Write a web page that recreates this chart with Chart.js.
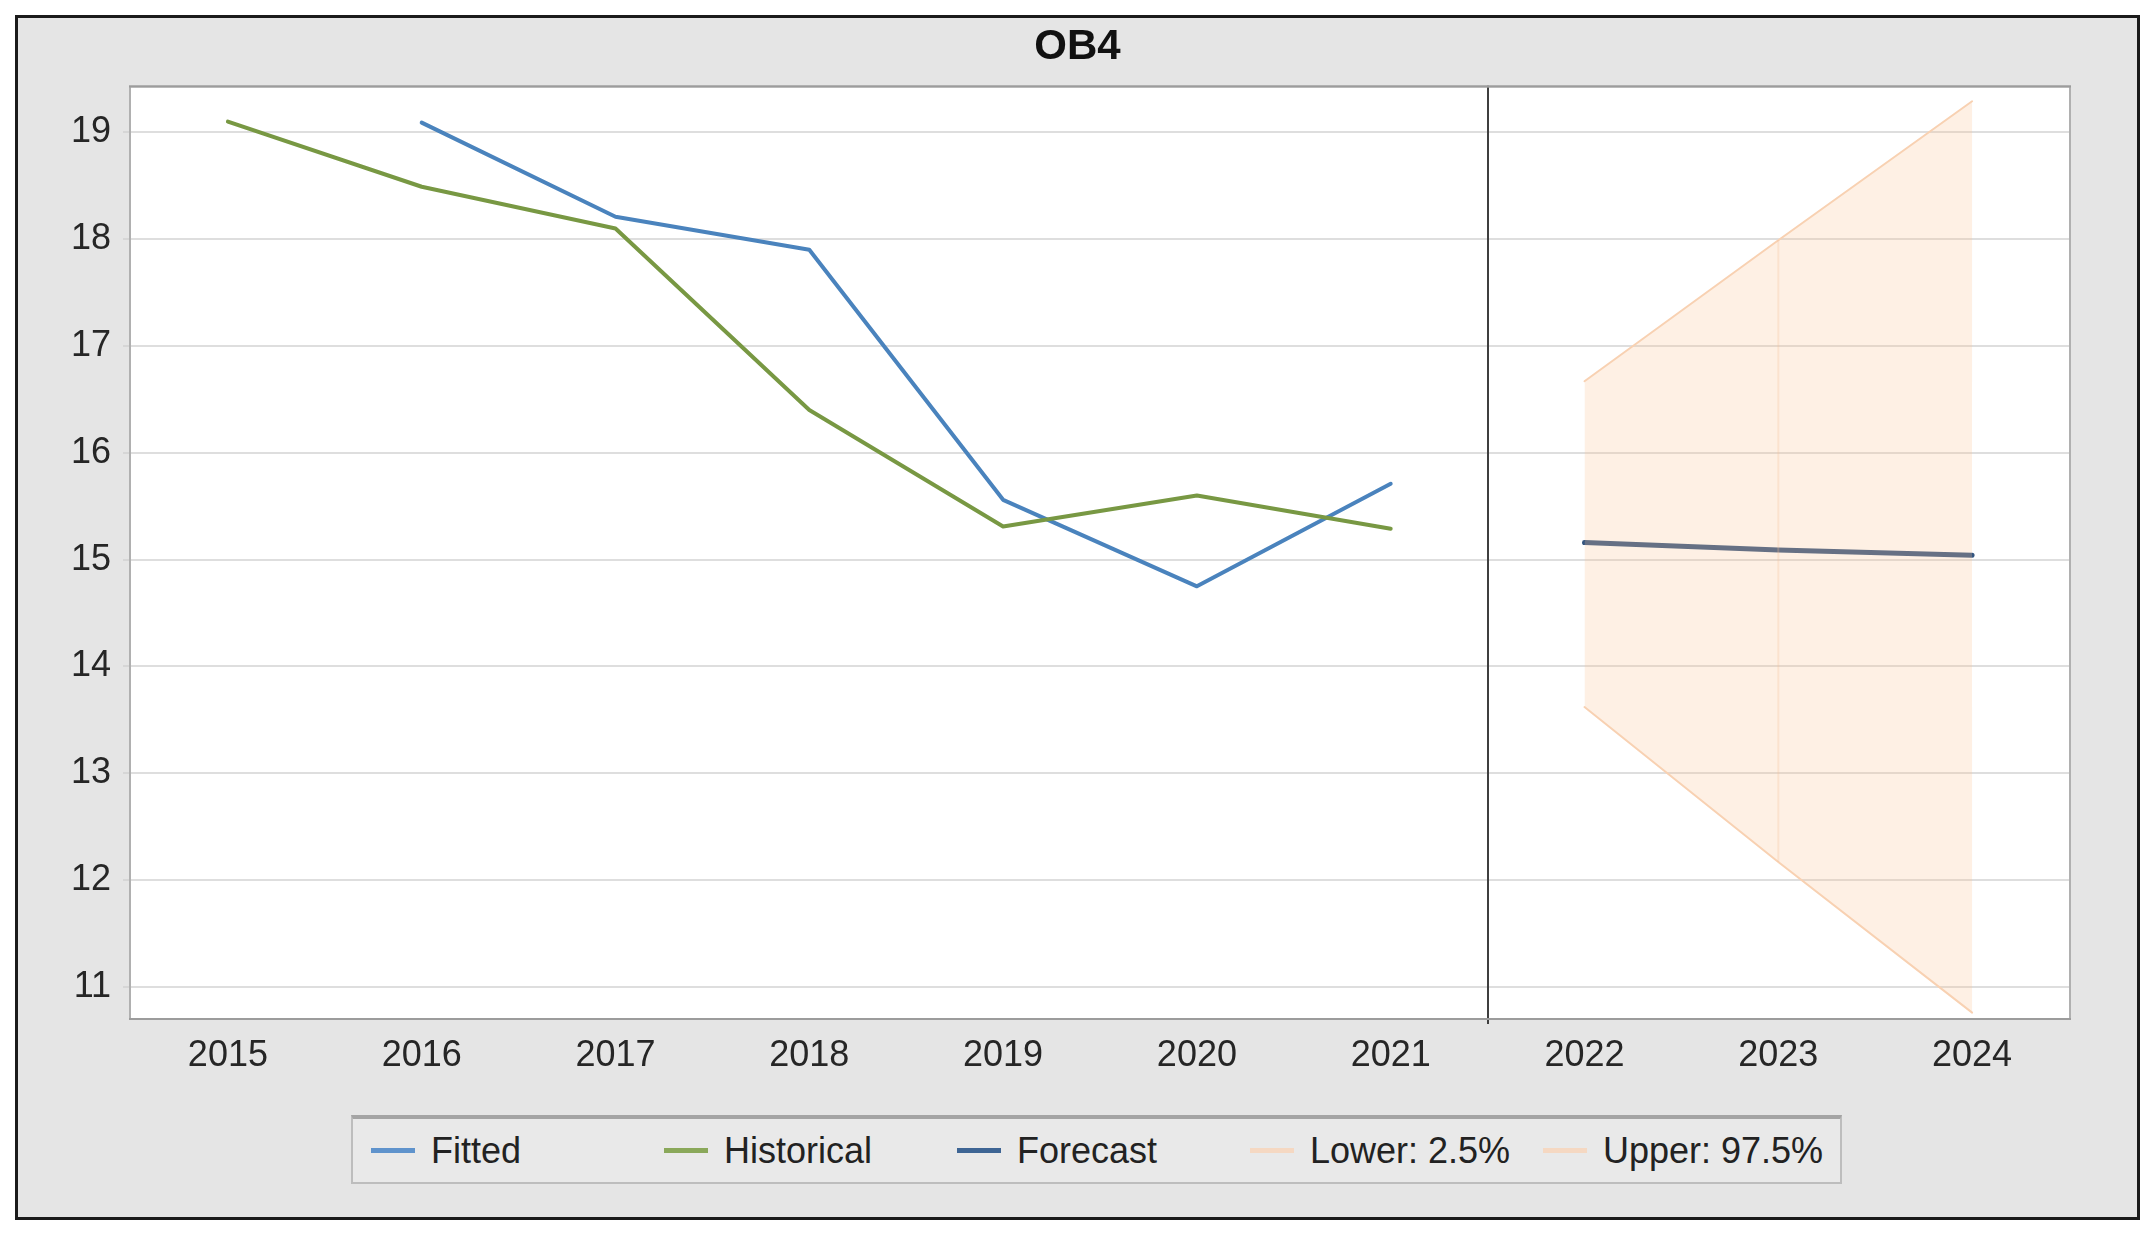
<!DOCTYPE html>
<html><head><meta charset="utf-8">
<script src="https://cdn.jsdelivr.net/npm/chart.js@4.4.1/dist/chart.umd.min.js"></script>
<style>
html,body{margin:0;padding:0;background:#fff;}
body{width:2155px;height:1244px;position:relative;overflow:hidden;font-family:'Liberation Sans',Arial,sans-serif;}
#frame{position:absolute;left:15px;top:15px;width:2125px;height:1205px;border:3px solid #1b1b1b;box-sizing:border-box;background:#e5e5e5;}
#wrap{position:absolute;left:0;top:0;width:2119px;height:1199px;}
#legend{position:absolute;left:333px;top:1097px;width:1491px;height:69px;box-sizing:border-box;border:2px solid #bdbdbd;border-top:4px solid #a4a4a4;background:#e9e9e9;}
.item{position:absolute;top:0;height:100%;display:flex;align-items:center;font-size:36px;color:#222;white-space:nowrap;}
.sw{width:44px;height:5px;margin-right:16px;}
</style></head>
<body><div id="frame"><div id="wrap"><canvas id="c"></canvas></div><div id="legend"></div></div>
<script>
const years = ['2015','2016','2017','2018','2019','2020','2021','2022','2023','2024'];
const fitted     = [null, 19.09, 18.21, 17.90, 15.56, 14.75, 15.71, null, null, null];
const historical = [19.10, 18.49, 18.10, 16.40, 15.31, 15.60, 15.29, null, null, null];
const forecast   = [null, null, null, null, null, null, null, 15.16, 15.09, 15.04];
const lower      = [null, null, null, null, null, null, null, 13.62, 12.17, 10.76];
const upper      = [null, null, null, null, null, null, null, 16.67, 17.99, 19.29];
const yTicks = [11, 12, 13, 14, 15, 16, 17, 18, 19];
const dividerAfter = '2021';
const titleText = 'OB4';
const seriesLabels = ['Fitted', 'Historical', 'Forecast', 'Lower: 2.5%', 'Upper: 97.5%'];

const colors = ['#4a83bd', '#789843', '#34557f', '#f8d1b2', '#f8d1b2'];
const legColors = ['#5f93cc', '#8aa85a', '#3e6594', '#f5d8c2', '#f5d8c2'];
const FONT = "'Liberation Sans', Arial, sans-serif";

const decor = {
  id: 'decor',
  beforeDraw(chart) {
    const {ctx, chartArea: a} = chart;
    ctx.save();
    ctx.fillStyle = '#ffffff';
    ctx.fillRect(a.left, a.top, a.width, a.height);
    ctx.restore();
  },
  afterDatasetsDraw(chart) {
    const {ctx, chartArea: a, scales: {x, y}} = chart;
    ctx.save();
    const mid = years.indexOf('2023');
    const sx = x.getPixelForValue(mid);
    ctx.strokeStyle = 'rgba(245,190,150,0.28)';
    ctx.lineWidth = 2;
    ctx.beginPath();
    ctx.moveTo(sx, y.getPixelForValue(upper[mid]));
    ctx.lineTo(sx, y.getPixelForValue(lower[mid]));
    ctx.stroke();
    const i = years.indexOf(dividerAfter);
    const px = Math.round((x.getPixelForValue(i) + x.getPixelForValue(i + 1)) / 2);
    ctx.strokeStyle = '#3f3f3f';
    ctx.lineWidth = 2;
    ctx.beginPath();
    ctx.moveTo(px, a.top - 2);
    ctx.lineTo(px, a.bottom + 6);
    ctx.stroke();
    ctx.strokeStyle = '#b0b0b0';
    ctx.lineWidth = 2;
    ctx.strokeRect(a.left - 1, a.top - 1, a.width + 2, a.height + 2);
    ctx.strokeStyle = '#9c9c9c';
    ctx.beginPath();
    ctx.moveTo(a.left - 2, a.top - 1); ctx.lineTo(a.right + 2, a.top - 1);
    ctx.moveTo(a.left - 2, a.bottom + 1); ctx.lineTo(a.right + 2, a.bottom + 1);
    ctx.stroke();
    ctx.restore();
  }
};

const mk = (label, data, color, width, extra) => Object.assign({
  label, data, borderColor: color, backgroundColor: color, borderWidth: width,
  pointRadius: 0, pointHoverRadius: 0, tension: 0, fill: false, spanGaps: false,
  borderJoinStyle: 'round', borderCapStyle: 'round'
}, extra || {});

const chart = new Chart(document.getElementById('c'), {
  type: 'line',
  data: {
    labels: years,
    datasets: [
      mk(seriesLabels[3], lower, colors[3], 2),
      mk(seriesLabels[4], upper, colors[4], 2, {fill: '-1', backgroundColor: 'rgba(250,194,148,0.25)'}),
      mk(seriesLabels[1], historical, colors[1], 4),
      mk(seriesLabels[0], fitted, colors[0], 4),
      mk(seriesLabels[2], forecast, colors[2], 5)
    ]
  },
  options: {
    responsive: true,
    maintainAspectRatio: false,
    animation: false,
    devicePixelRatio: 1,
    layout: {padding: {left: 0, right: 0, top: 0, bottom: 109}},
    plugins: {
      legend: {display: false},
      tooltip: {enabled: false},
      title: {
        display: true, text: titleText, color: '#111',
        font: {family: FONT, size: 42, weight: 'bold'},
        padding: {top: 4, bottom: 15}
      }
    },
    scales: {
      x: {
        offset: true,
        grid: {display: false, drawTicks: false, tickLength: 0},
        border: {display: false},
        ticks: {color: '#262626', font: {family: FONT, size: 36}, padding: 16, maxRotation: 0, autoSkip: false},
        afterFit(s) { s.height = 90; }
      },
      y: {
        min: 10.71, max: 19.42,
        afterBuildTicks(s) { s.ticks = yTicks.map(v => ({value: v})); },
        grid: {color: '#dedede', lineWidth: 2, tickLength: 8, tickColor: '#d6d6d6'},
        border: {display: false},
        ticks: {color: '#262626', font: {family: FONT, size: 36}, padding: 12, callback: v => String(v)},
        afterFit(s) { s.width = 113; }
      },
      yRight: {
        position: 'right',
        min: 10.71, max: 19.42,
        grid: {display: false, drawTicks: false},
        border: {display: false},
        ticks: {display: false},
        afterFit(s) { s.width = 68; }
      }
    }
  },
  plugins: [decor]
});

const leg = document.getElementById('legend');
seriesLabels.forEach((lab, i) => {
  const d = document.createElement('div');
  d.className = 'item';
  d.style.left = (18 + i * 293) + 'px';
  const sw = document.createElement('span');
  sw.className = 'sw';
  sw.style.background = legColors[i];
  const t = document.createElement('span');
  t.textContent = lab;
  d.appendChild(sw); d.appendChild(t);
  leg.appendChild(d);
});
</script>
</body></html>
